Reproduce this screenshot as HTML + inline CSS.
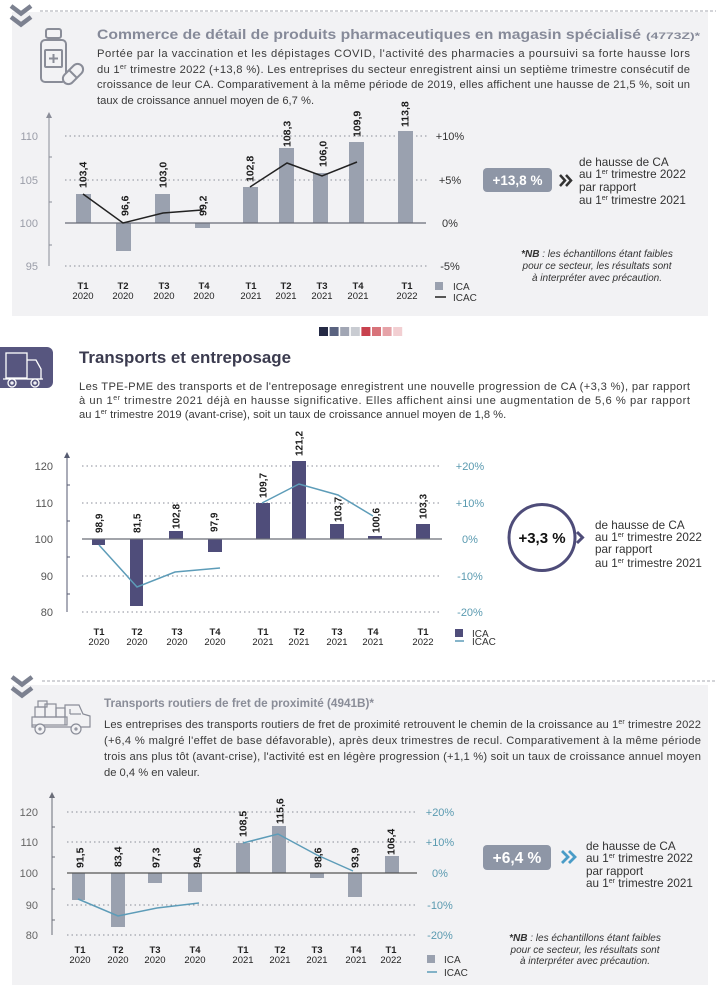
<!DOCTYPE html>
<html><head><meta charset="utf-8"><style>
html,body{margin:0;padding:0;background:#fff;}
svg{display:block;font-family:"Liberation Sans",sans-serif;}
</style></head><body>
<svg width="720" height="1000" viewBox="0 0 720 1000" xmlns="http://www.w3.org/2000/svg">
<rect x="0" y="0" width="720" height="1000" fill="#ffffff"/>

<!-- ============ TOP SECTION ============ -->
<rect x="12" y="12" width="696" height="304" fill="#f2f2f4"/>
<line x1="40" y1="11" x2="716" y2="11" stroke="#8a8d98" stroke-width="0.8" stroke-dasharray="3,2"/>
<g fill="none" stroke="#7c8190" stroke-width="4.5" stroke-linejoin="miter">
<polyline points="11,6 21,13.5 31,6"/>
<polyline points="11,17 21,24.5 31,17"/>
</g>
<!-- pharmacy icon -->
<g fill="none" stroke="#8a8d98" stroke-width="2">
<rect x="46" y="29" width="15" height="9" rx="2"/>
<rect x="41" y="40" width="25" height="42" rx="4"/>
<rect x="45" y="50" width="17" height="17" rx="1"/>
<line x1="53.5" y1="54" x2="53.5" y2="63"/>
<line x1="49" y1="58.5" x2="58" y2="58.5"/>
<g transform="rotate(-45 73 74)">
<rect x="61" y="68.5" width="24" height="11" rx="5.5" fill="#f2f2f4"/>
<line x1="73" y1="68.5" x2="73" y2="79.5"/>
</g>
</g>
<text x="97" y="39" font-size="14" font-weight="bold" fill="#868a99" textLength="544" lengthAdjust="spacingAndGlyphs">Commerce de détail de produits pharmaceutiques en magasin spécialisé</text>
<text x="646" y="39" font-size="9.5" font-weight="bold" fill="#868a99" textLength="54" lengthAdjust="spacingAndGlyphs">(4773Z)*</text>
<g font-size="11.2" fill="#3a3a3a">
<text x="97" y="57" textLength="593" lengthAdjust="spacing">Portée par la vaccination et les dépistages COVID, l'activité des pharmacies a poursuivi sa forte hausse lors</text>
<text x="97" y="73" textLength="593" lengthAdjust="spacing">du 1<tspan font-size="7" dy="-4">er</tspan><tspan dy="4"> trimestre 2022 (+13,8 %). Les entreprises du secteur enregistrent ainsi un septième trimestre consécutif de</tspan></text>
<text x="97" y="88" textLength="593" lengthAdjust="spacing">croissance de leur CA. Comparativement à la même période de 2019, elles affichent une hausse de 21,5 %, soit un</text>
<text x="97" y="104">taux de croissance annuel moyen de 6,7 %.</text>
</g>

<!-- chart 1 -->
<g>
<line x1="49" y1="116" x2="49" y2="266" stroke="#8a8d98" stroke-width="1"/>
<polygon points="46,118 49,112 52,118" fill="#8a8d98"/>
<g stroke="#8a8d98" stroke-width="1">
<line x1="49" y1="157" x2="52" y2="157"/><line x1="49" y1="202" x2="52" y2="202"/><line x1="49" y1="245" x2="52" y2="245"/>
</g>
<g stroke="#8a8d98" stroke-width="1" stroke-dasharray="1.5,3">
<line x1="65" y1="136" x2="428" y2="136"/>
<line x1="65" y1="180" x2="428" y2="180"/>
<line x1="65" y1="266" x2="428" y2="266"/>
</g>
<g font-size="11" fill="#9a9da8" text-anchor="end">
<text x="38" y="140">110</text><text x="38" y="184">105</text><text x="38" y="227">100</text><text x="38" y="270">95</text>
</g>
<g font-size="11" fill="#333" text-anchor="middle">
<text x="450" y="140">+10%</text><text x="450" y="184">+5%</text><text x="450" y="227">0%</text><text x="450" y="270">-5%</text>
</g>
<g fill="#9aa1af">
<rect x="76" y="194" width="15" height="29"/>
<rect x="116" y="223" width="15" height="28"/>
<rect x="155" y="194" width="15" height="29"/>
<rect x="195" y="223" width="15" height="5"/>
<rect x="243" y="187" width="15" height="36"/>
<rect x="279" y="148" width="15" height="75"/>
<rect x="313" y="173" width="15" height="50"/>
<rect x="349" y="142" width="15" height="81"/>
<rect x="398" y="131" width="15" height="92"/>
</g>
<line x1="65" y1="223" x2="426" y2="223" stroke="#6a6d78" stroke-width="1.2"/>
<g fill="none" stroke="#222" stroke-width="1.5">
<polyline points="83,194 123,223 163,213 202,210"/>
<polyline points="250,187 287,163 322,176 357,162"/>
</g>
<g font-size="10.5" font-weight="bold" fill="#1a1a1a">
<text transform="translate(86.7,188) rotate(-90)">103,4</text>
<text transform="translate(128.7,216) rotate(-90)">96,6</text>
<text transform="translate(166.7,188) rotate(-90)">103,0</text>
<text transform="translate(206.7,216) rotate(-90)">99,2</text>
<text transform="translate(253.7,182) rotate(-90)">102,8</text>
<text transform="translate(290.7,147) rotate(-90)">108,3</text>
<text transform="translate(326.7,167) rotate(-90)">106,0</text>
<text transform="translate(360.7,137) rotate(-90)">109,9</text>
<text transform="translate(408.7,127) rotate(-90)">113,8</text>
</g>
<g font-size="9.5" fill="#222" text-anchor="middle">
<g font-weight="bold"><text x="83" y="289">T1</text><text x="123" y="289">T2</text><text x="164" y="289">T3</text><text x="204" y="289">T4</text><text x="251" y="289">T1</text><text x="286" y="289">T2</text><text x="322" y="289">T3</text><text x="358" y="289">T4</text><text x="407" y="289">T1</text></g>
<text x="83" y="299">2020</text><text x="123" y="299">2020</text><text x="164" y="299">2020</text><text x="204" y="299">2020</text><text x="251" y="299">2021</text><text x="286" y="299">2021</text><text x="322" y="299">2021</text><text x="358" y="299">2021</text><text x="407" y="299">2022</text>
</g>
<rect x="435" y="282" width="8" height="8" fill="#9aa1af"/>
<line x1="435" y1="297" x2="446" y2="297" stroke="#222" stroke-width="1.5"/>
<g font-size="10" fill="#333"><text x="453" y="290">ICA</text><text x="453" y="301">ICAC</text></g>
</g>

<rect x="483" y="168" width="69" height="24" rx="4" fill="#8e96a6"/>
<text x="517.5" y="185" font-size="13.5" font-weight="bold" fill="#fff" text-anchor="middle">+13,8 %</text>
<g fill="none" stroke="#333" stroke-width="2.5"><polyline points="560,175 565,180.5 560,186"/><polyline points="566,175 571,180.5 566,186"/></g>
<g font-size="11.7" fill="#333">
<text x="579" y="166">de hausse de CA</text>
<text x="579" y="178">au 1<tspan font-size="7" dy="-4">er</tspan><tspan dy="4"> trimestre 2022</tspan></text>
<text x="579" y="191">par rapport</text>
<text x="579" y="204">au 1<tspan font-size="7" dy="-4">er</tspan><tspan dy="4"> trimestre 2021</tspan></text>
</g>
<g font-size="10" font-style="italic" fill="#333" text-anchor="middle">
<text x="597" y="257"><tspan font-weight="bold">*NB</tspan> : les échantillons étant faibles</text>
<text x="597" y="269">pour ce secteur, les résultats sont</text>
<text x="597" y="281">à interpréter avec précaution.</text>
</g>

<!-- color squares -->
<g>
<rect x="319" y="327" width="9" height="9" fill="#252a45"/>
<rect x="329.6" y="327" width="9" height="9" fill="#5a6380"/>
<rect x="340.2" y="327" width="9" height="9" fill="#a1a6b4"/>
<rect x="350.8" y="327" width="9" height="9" fill="#c9ccd2"/>
<rect x="361.4" y="327" width="9" height="9" fill="#c8414e"/>
<rect x="372" y="327" width="9" height="9" fill="#d8737a"/>
<rect x="382.6" y="327" width="9" height="9" fill="#e6a3a8"/>
<rect x="393.2" y="327" width="9" height="9" fill="#f2cfd2"/>
</g>

<!-- ============ MIDDLE SECTION ============ -->
<rect x="-8" y="347" width="61" height="41" rx="6" fill="#57567f"/>
<g fill="none" stroke="#fff" stroke-width="1.3">
<rect x="6" y="353" width="21" height="25"/>
<polyline points="27,360 36,360 41,369 41,379 27,379"/>
<line x1="3" y1="379" x2="43" y2="379"/>
<circle cx="12" cy="383" r="4" fill="#57567f"/>
<circle cx="35" cy="383" r="4" fill="#57567f"/>
<circle cx="12" cy="383" r="1"/>
<circle cx="35" cy="383" r="1"/>
</g>
<text x="79" y="363" font-size="17" font-weight="bold" fill="#3b3b4f" textLength="212" lengthAdjust="spacingAndGlyphs">Transports et entreposage</text>
<g font-size="11.2" fill="#3a3a3a">
<text x="79" y="390" textLength="611" lengthAdjust="spacing">Les TPE-PME des transports et de l'entreposage enregistrent une nouvelle progression de CA (+3,3 %), par rapport</text>
<text x="79" y="404" textLength="611" lengthAdjust="spacing">à un 1<tspan font-size="7" dy="-4">er</tspan><tspan dy="4"> trimestre 2021 déjà en hausse significative. Elles affichent ainsi une augmentation de 5,6 % par rapport</tspan></text>
<text x="79" y="418">au 1<tspan font-size="7" dy="-4">er</tspan><tspan dy="4"> trimestre 2019 (avant-crise), soit un taux de croissance annuel moyen de 1,8 %.</tspan></text>
</g>

<!-- chart 2 -->
<g>
<line x1="67" y1="456" x2="67" y2="612" stroke="#555a70" stroke-width="1"/>
<polygon points="64,458 67,452 70,458" fill="#555a70"/>
<g stroke="#555a70" stroke-width="1">
<line x1="67" y1="485" x2="70" y2="485"/><line x1="67" y1="521" x2="70" y2="521"/><line x1="67" y1="557" x2="70" y2="557"/><line x1="67" y1="594" x2="70" y2="594"/>
</g>
<g stroke="#8a8d98" stroke-width="1" stroke-dasharray="1.5,3">
<line x1="82" y1="466" x2="442" y2="466"/>
<line x1="82" y1="503" x2="442" y2="503"/>
<line x1="82" y1="576" x2="442" y2="576"/>
<line x1="82" y1="612" x2="442" y2="612"/>
</g>
<g font-size="11" fill="#555" text-anchor="end">
<text x="53" y="470">120</text><text x="53" y="507">110</text><text x="53" y="543">100</text><text x="53" y="580">90</text><text x="53" y="616">80</text>
</g>
<g font-size="11" fill="#5a9ab0" text-anchor="middle">
<text x="470" y="470">+20%</text><text x="470" y="507">+10%</text><text x="470" y="543">0%</text><text x="470" y="580">-10%</text><text x="470" y="616">-20%</text>
</g>
<g fill="#4f4d7a">
<rect x="92" y="539" width="13" height="6"/>
<rect x="130" y="539" width="13" height="67"/>
<rect x="169" y="531" width="14" height="8"/>
<rect x="208" y="539" width="14" height="13"/>
<rect x="256" y="503" width="14" height="36"/>
<rect x="292" y="461" width="14" height="78"/>
<rect x="330" y="524" width="14" height="15"/>
<rect x="368" y="536" width="14" height="3"/>
<rect x="416" y="524" width="14" height="15"/>
</g>
<line x1="82" y1="539" x2="442" y2="539" stroke="#6a6d78" stroke-width="1.2"/>
<g fill="none" stroke="#5d9cb8" stroke-width="1.5">
<polyline points="99,545 137,587 175,572 220,568"/>
<polyline points="262,503 299,484 338,495 373,516"/>
</g>
<g font-size="10" font-weight="bold" fill="#1a1a1a">
<text transform="translate(102.6,533) rotate(-90)">98,9</text>
<text transform="translate(140.6,533) rotate(-90)">81,5</text>
<text transform="translate(179.6,529) rotate(-90)">102,8</text>
<text transform="translate(217.6,532) rotate(-90)">97,9</text>
<text transform="translate(266.6,498) rotate(-90)">109,7</text>
<text transform="translate(302.6,456) rotate(-90)">121,2</text>
<text transform="translate(341.6,522) rotate(-90)">103,7</text>
<text transform="translate(379.6,533) rotate(-90)">100,6</text>
<text transform="translate(426.6,519) rotate(-90)">103,3</text>
</g>
<g font-size="9.5" fill="#222" text-anchor="middle">
<g font-weight="bold"><text x="99" y="635">T1</text><text x="137" y="635">T2</text><text x="177" y="635">T3</text><text x="215" y="635">T4</text><text x="263" y="635">T1</text><text x="299" y="635">T2</text><text x="337" y="635">T3</text><text x="373" y="635">T4</text><text x="423" y="635">T1</text></g>
<text x="99" y="645">2020</text><text x="137" y="645">2020</text><text x="177" y="645">2020</text><text x="215" y="645">2020</text><text x="263" y="645">2021</text><text x="299" y="645">2021</text><text x="337" y="645">2021</text><text x="373" y="645">2021</text><text x="423" y="645">2022</text>
</g>
<rect x="455" y="629" width="8" height="8" fill="#4f4d7a"/>
<line x1="455" y1="641" x2="464" y2="641" stroke="#5d9cb8" stroke-width="1.5"/>
<g font-size="10" fill="#333"><text x="472" y="637">ICA</text><text x="472" y="645">ICAC</text></g>
</g>

<circle cx="542" cy="537.5" r="33" fill="#fff" stroke="#4e4c79" stroke-width="3"/>
<text x="542" y="543" font-size="15" font-weight="bold" fill="#111" text-anchor="middle">+3,3 %</text>
<polyline points="577,532 582.5,537.5 577,543" fill="none" stroke="#4e4c79" stroke-width="3"/>
<g font-size="11.7" fill="#333">
<text x="595" y="529">de hausse de CA</text>
<text x="595" y="541">au 1<tspan font-size="7" dy="-4">er</tspan><tspan dy="4"> trimestre 2022</tspan></text>
<text x="595" y="553">par rapport</text>
<text x="595" y="567">au 1<tspan font-size="7" dy="-4">er</tspan><tspan dy="4"> trimestre 2021</tspan></text>
</g>

<!-- ============ BOTTOM SECTION ============ -->
<rect x="12" y="685" width="696" height="300" fill="#f2f2f4"/>
<line x1="42" y1="681" x2="716" y2="681" stroke="#8a8d98" stroke-width="0.8" stroke-dasharray="3,2"/>
<g fill="none" stroke="#7c8190" stroke-width="4.5">
<polyline points="12,677 22,684.5 32,677"/>
<polyline points="12,688 22,695.5 32,688"/>
</g>
<!-- truck with boxes -->
<g fill="none" stroke="#8a8d98" stroke-width="1.2">
<rect x="32" y="717" width="35" height="8"/>
<rect x="35" y="707" width="10" height="10"/>
<rect x="45" y="704" width="11" height="13"/>
<rect x="56" y="708" width="9" height="9"/>
<rect x="38" y="701" width="9" height="6"/>
<polyline points="65,725 65,705 79,705 83,714 90,716 90,727 32,727 32,725"/>
<line x1="70" y1="709" x2="70" y2="714"/><line x1="70" y1="714" x2="81" y2="714"/>
<circle cx="40" cy="729" r="5" fill="#f2f2f4"/>
<circle cx="76" cy="729" r="5" fill="#f2f2f4"/>
<circle cx="40" cy="729" r="1"/>
<circle cx="76" cy="729" r="1"/>
</g>
<text x="104" y="707" font-size="11.5" font-weight="bold" fill="#8a8d98" textLength="270" lengthAdjust="spacingAndGlyphs">Transports routiers de fret de proximité (4941B)*</text>
<g font-size="11.2" fill="#3a3a3a">
<text x="104" y="728" textLength="597" lengthAdjust="spacing">Les entreprises des transports routiers de fret de proximité retrouvent le chemin de la croissance au 1<tspan font-size="7" dy="-4">er</tspan><tspan dy="4"> trimestre 2022</tspan></text>
<text x="104" y="744" textLength="597" lengthAdjust="spacing">(+6,4 % malgré l'effet de base défavorable), après deux trimestres de recul. Comparativement à la même période</text>
<text x="104" y="760" textLength="597" lengthAdjust="spacing">trois ans plus tôt (avant-crise), l'activité est en légère progression (+1,1 %) soit un taux de croissance annuel moyen</text>
<text x="104" y="776">de 0,4 % en valeur.</text>
</g>

<!-- chart 3 -->
<g>
<line x1="52" y1="796" x2="52" y2="935" stroke="#6a6d78" stroke-width="1"/>
<polygon points="49,798 52,792 55,798" fill="#6a6d78"/>
<g stroke="#6a6d78" stroke-width="1">
<line x1="52" y1="827" x2="55" y2="827"/><line x1="52" y1="857" x2="55" y2="857"/><line x1="52" y1="889" x2="55" y2="889"/><line x1="52" y1="920" x2="55" y2="920"/>
</g>
<g stroke="#8a8d98" stroke-width="1" stroke-dasharray="1.5,3">
<line x1="67" y1="812" x2="417" y2="812"/>
<line x1="67" y1="842" x2="417" y2="842"/>
<line x1="67" y1="905" x2="417" y2="905"/>
<line x1="67" y1="935" x2="417" y2="935"/>
</g>
<g font-size="11" fill="#666" text-anchor="end">
<text x="38" y="816">120</text><text x="38" y="846">110</text><text x="38" y="877">100</text><text x="38" y="909">90</text><text x="38" y="939">80</text>
</g>
<g font-size="11" fill="#5a9ab0" text-anchor="middle">
<text x="440" y="816">+20%</text><text x="440" y="846">+10%</text><text x="440" y="877">0%</text><text x="440" y="909">-10%</text><text x="440" y="939">-20%</text>
</g>
<g fill="#9aa1af">
<rect x="72" y="873" width="13" height="27"/>
<rect x="111" y="873" width="14" height="54"/>
<rect x="148" y="873" width="14" height="10"/>
<rect x="188" y="873" width="14" height="19"/>
<rect x="236" y="843" width="14" height="30"/>
<rect x="272" y="826" width="14" height="47"/>
<rect x="310" y="873" width="14" height="5"/>
<rect x="348" y="873" width="14" height="24"/>
<rect x="385" y="856" width="14" height="17"/>
</g>
<line x1="67" y1="873" x2="417" y2="873" stroke="#555" stroke-width="1.2"/>
<g fill="none" stroke="#5d9cb8" stroke-width="1.5">
<polyline points="78,899 118,916 157,908 199,903"/>
<polyline points="243,843 278,834 317,855 353,871"/>
</g>
<g font-size="10.5" font-weight="bold" fill="#1a1a1a">
<text transform="translate(83.7,868) rotate(-90)">91,5</text>
<text transform="translate(121.7,867) rotate(-90)">83,4</text>
<text transform="translate(159.7,868) rotate(-90)">97,3</text>
<text transform="translate(200.7,868) rotate(-90)">94,6</text>
<text transform="translate(246.7,837) rotate(-90)">108,5</text>
<text transform="translate(283.7,824) rotate(-90)">115,6</text>
<text transform="translate(321.7,868) rotate(-90)">98,6</text>
<text transform="translate(358.7,868) rotate(-90)">93,9</text>
<text transform="translate(394.7,855) rotate(-90)">106,4</text>
</g>
<g font-size="9.5" fill="#222" text-anchor="middle">
<g font-weight="bold"><text x="80" y="953">T1</text><text x="118" y="953">T2</text><text x="155" y="953">T3</text><text x="195" y="953">T4</text><text x="243" y="953">T1</text><text x="280" y="953">T2</text><text x="317" y="953">T3</text><text x="356" y="953">T4</text><text x="391" y="953">T1</text></g>
<text x="80" y="963">2020</text><text x="118" y="963">2020</text><text x="155" y="963">2020</text><text x="195" y="963">2020</text><text x="243" y="963">2021</text><text x="280" y="963">2021</text><text x="317" y="963">2021</text><text x="356" y="963">2021</text><text x="391" y="963">2022</text>
</g>
<rect x="427" y="955" width="8" height="8" fill="#9aa1af"/>
<line x1="427" y1="972" x2="437" y2="972" stroke="#5d9cb8" stroke-width="1.5"/>
<g font-size="10" fill="#333"><text x="444" y="963">ICA</text><text x="444" y="976">ICAC</text></g>
</g>

<rect x="483" y="845" width="68" height="25" rx="4" fill="#8e96a6"/>
<text x="517" y="863" font-size="15.5" font-weight="bold" fill="#fff" text-anchor="middle">+6,4 %</text>
<g fill="none" stroke="#4a9cc7" stroke-width="2.8"><polyline points="562,851 568,857 562,863"/><polyline points="569,851 575,857 569,863"/></g>
<g font-size="11.7" fill="#333">
<text x="586" y="850">de hausse de CA</text>
<text x="586" y="862">au 1<tspan font-size="7" dy="-4">er</tspan><tspan dy="4"> trimestre 2022</tspan></text>
<text x="586" y="875">par rapport</text>
<text x="586" y="887">au 1<tspan font-size="7" dy="-4">er</tspan><tspan dy="4"> trimestre 2021</tspan></text>
</g>
<g font-size="10" font-style="italic" fill="#333" text-anchor="middle">
<text x="585" y="941"><tspan font-weight="bold">*NB</tspan> : les échantillons étant faibles</text>
<text x="585" y="953">pour ce secteur, les résultats sont</text>
<text x="585" y="964">à interpréter avec précaution.</text>
</g>
</svg>
</body></html>
